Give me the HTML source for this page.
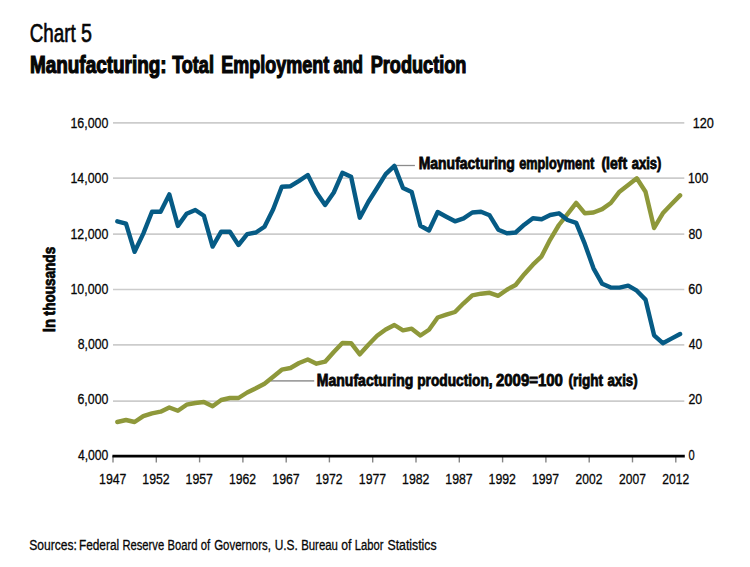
<!DOCTYPE html>
<html lang="en">
<head>
<meta charset="utf-8">
<title>Chart 5 - Manufacturing: Total Employment and Production</title>
<style>
  html, body { margin: 0; padding: 0; background: #ffffff; }
  body { width: 750px; height: 567px; overflow: hidden; }
  svg { display: block; }
  text { font-family: 'Liberation Sans', Arial, sans-serif; fill: #060606; stroke: #060606; stroke-width: 0.3; }
  .b { font-weight: bold; stroke-width: 0.8; }
  .t { stroke-width: 1.2; }
  .c { stroke-width: 0.65; }
  .grid line { stroke: #cccccc; stroke-width: 1.7; }
  .tick line { stroke: #858585; stroke-width: 1.4; }
  .ser { fill: none; stroke-width: 4.4; stroke-linejoin: round; stroke-linecap: round; }
</style>
</head>
<body>
<svg width="750" height="567" viewBox="0 0 750 567">
<rect width="750" height="567" fill="#ffffff"/>
<g class="grid">
<line x1="113" y1="122.9" x2="684.3" y2="122.9"/>
<line x1="113" y1="178.2" x2="684.3" y2="178.2"/>
<line x1="113" y1="234.2" x2="684.3" y2="234.2"/>
<line x1="113" y1="289.5" x2="684.3" y2="289.5"/>
<line x1="113" y1="344.8" x2="684.3" y2="344.8"/>
<line x1="113" y1="401.1" x2="684.3" y2="401.1"/>
</g>
<line x1="395" y1="165.5" x2="414.9" y2="165.5" stroke="#8c8c8c" stroke-width="1.3"/>
<line x1="271" y1="380.9" x2="314.2" y2="380.9" stroke="#a0a0a0" stroke-width="1.7"/>
<polyline class="ser" stroke="#8e983a" points="117.3,422.0 126.0,420.0 134.6,422.0 143.3,416.2 152.0,413.3 160.6,411.7 169.3,407.5 177.9,410.8 186.6,404.7 195.3,403.0 203.9,402.0 212.6,406.3 221.2,400.0 229.9,398.0 238.5,398.0 247.2,392.5 255.9,388.3 264.5,383.7 273.2,376.7 281.8,369.7 290.5,368.0 299.1,363.0 307.8,359.5 316.5,363.7 325.1,361.7 333.8,352.0 342.4,343.0 351.1,343.2 359.8,354.3 368.4,344.7 377.1,335.8 385.7,329.5 394.4,325.0 403.0,330.3 411.7,328.7 420.4,335.5 429.0,329.7 437.7,317.5 446.3,314.7 455.0,312.0 463.6,303.3 472.3,295.3 481.0,293.7 489.6,292.8 498.3,295.8 506.9,289.7 515.6,285.0 524.3,274.2 532.9,264.7 541.6,256.3 550.2,239.6 558.9,225.0 567.5,214.2 576.2,202.9 584.9,213.3 593.5,212.5 602.2,209.1 610.8,203.0 619.5,191.7 628.2,185.0 636.8,178.3 645.5,191.7 654.1,228.0 662.8,213.3 671.4,204.3 680.1,195.4"/>
<polyline class="ser" stroke="#065b85" points="117.3,221.3 126.0,223.7 134.6,251.8 143.3,233.6 152.0,211.7 160.6,211.7 169.3,194.4 177.9,225.9 186.6,213.7 195.3,210.0 203.9,215.8 212.6,246.6 221.2,231.7 229.9,231.7 238.5,245.0 247.2,234.2 255.9,232.5 264.5,226.7 273.2,209.2 281.8,186.7 290.5,186.2 299.1,180.8 307.8,175.0 316.5,192.5 325.1,204.9 333.8,192.5 342.4,172.8 351.1,176.7 359.8,217.7 368.4,201.7 377.1,188.0 385.7,174.2 394.4,165.9 403.0,188.0 411.7,192.0 420.4,225.8 429.0,230.5 437.7,212.0 446.3,216.7 455.0,221.3 463.6,218.3 472.3,212.5 481.0,211.7 489.6,215.3 498.3,229.7 506.9,233.3 515.6,232.5 524.3,224.7 532.9,218.3 541.6,219.2 550.2,215.0 558.9,213.3 567.5,220.0 576.2,222.8 584.9,244.2 593.5,268.3 602.2,283.8 610.8,287.6 619.5,287.6 628.2,285.7 636.8,290.7 645.5,299.6 654.1,335.3 662.8,343.2 671.4,338.6 680.1,334.0"/>
<g class="tick">
<line x1="113.0" y1="456.1" x2="113.0" y2="462.4"/>
<line x1="156.3" y1="456.1" x2="156.3" y2="462.4"/>
<line x1="199.6" y1="456.1" x2="199.6" y2="462.4"/>
<line x1="242.9" y1="456.1" x2="242.9" y2="462.4"/>
<line x1="286.2" y1="456.1" x2="286.2" y2="462.4"/>
<line x1="329.4" y1="456.1" x2="329.4" y2="462.4"/>
<line x1="372.7" y1="456.1" x2="372.7" y2="462.4"/>
<line x1="416.0" y1="456.1" x2="416.0" y2="462.4"/>
<line x1="459.3" y1="456.1" x2="459.3" y2="462.4"/>
<line x1="502.6" y1="456.1" x2="502.6" y2="462.4"/>
<line x1="545.9" y1="456.1" x2="545.9" y2="462.4"/>
<line x1="589.2" y1="456.1" x2="589.2" y2="462.4"/>
<line x1="632.5" y1="456.1" x2="632.5" y2="462.4"/>
<line x1="675.8" y1="456.1" x2="675.8" y2="462.4"/>
</g>
<line x1="112.4" y1="456.1" x2="684.8" y2="456.1" stroke="#000" stroke-width="2.6"/>
<text y="41.8" font-size="25.5" class="c"><tspan x="29.7" textLength="45.95" lengthAdjust="spacingAndGlyphs">Chart</tspan> <tspan x="80.95" textLength="10.95" lengthAdjust="spacingAndGlyphs">5</tspan></text>
<text y="72.6" font-size="23.5" class="b t"><tspan x="29.95" textLength="136.7" lengthAdjust="spacingAndGlyphs">Manufacturing:</tspan> <tspan x="172.2" textLength="41.7" lengthAdjust="spacingAndGlyphs">Total</tspan> <tspan x="221.2" textLength="107.95" lengthAdjust="spacingAndGlyphs">Employment</tspan> <tspan x="333.45" textLength="29.45" lengthAdjust="spacingAndGlyphs">and</tspan> <tspan x="370.7" textLength="95.7" lengthAdjust="spacingAndGlyphs">Production</tspan></text>
<text y="128.0" font-size="15.4"><tspan x="70.45" textLength="37.95" lengthAdjust="spacingAndGlyphs">16,000</tspan></text>
<text y="183.3" font-size="15.4"><tspan x="70.45" textLength="37.95" lengthAdjust="spacingAndGlyphs">14,000</tspan></text>
<text y="238.5" font-size="15.4"><tspan x="70.45" textLength="37.95" lengthAdjust="spacingAndGlyphs">12,000</tspan></text>
<text y="293.8" font-size="15.4"><tspan x="70.45" textLength="37.95" lengthAdjust="spacingAndGlyphs">10,000</tspan></text>
<text y="349.1" font-size="15.4"><tspan x="77.7" textLength="30.7" lengthAdjust="spacingAndGlyphs">8,000</tspan></text>
<text y="404.4" font-size="15.4"><tspan x="77.45" textLength="30.95" lengthAdjust="spacingAndGlyphs">6,000</tspan></text>
<text y="459.6" font-size="15.4"><tspan x="77.95" textLength="30.45" lengthAdjust="spacingAndGlyphs">4,000</tspan></text>
<text y="128.0" font-size="15.4"><tspan x="692.7" textLength="21.2" lengthAdjust="spacingAndGlyphs">120</tspan></text>
<text y="183.3" font-size="15.4"><tspan x="687.95" textLength="20.45" lengthAdjust="spacingAndGlyphs">100</tspan></text>
<text y="238.5" font-size="15.4"><tspan x="688.45" textLength="13.7" lengthAdjust="spacingAndGlyphs">80</tspan></text>
<text y="293.8" font-size="15.4"><tspan x="688.2" textLength="13.95" lengthAdjust="spacingAndGlyphs">60</tspan></text>
<text y="349.1" font-size="15.4"><tspan x="688.7" textLength="13.45" lengthAdjust="spacingAndGlyphs">40</tspan></text>
<text y="404.4" font-size="15.4"><tspan x="688.45" textLength="13.7" lengthAdjust="spacingAndGlyphs">20</tspan></text>
<text y="459.6" font-size="15.4"><tspan x="688.45" textLength="6.2" lengthAdjust="spacingAndGlyphs">0</tspan></text>
<text y="483.9" font-size="15.4"><tspan x="99.05" textLength="27.35" lengthAdjust="spacingAndGlyphs">1947</tspan> <tspan x="142.3" textLength="27.35" lengthAdjust="spacingAndGlyphs">1952</tspan> <tspan x="185.55" textLength="27.35" lengthAdjust="spacingAndGlyphs">1957</tspan> <tspan x="229.05" textLength="27.1" lengthAdjust="spacingAndGlyphs">1962</tspan> <tspan x="272.3" textLength="27.35" lengthAdjust="spacingAndGlyphs">1967</tspan> <tspan x="315.55" textLength="27.1" lengthAdjust="spacingAndGlyphs">1972</tspan> <tspan x="358.8" textLength="27.35" lengthAdjust="spacingAndGlyphs">1977</tspan> <tspan x="402.05" textLength="27.35" lengthAdjust="spacingAndGlyphs">1982</tspan> <tspan x="445.3" textLength="27.35" lengthAdjust="spacingAndGlyphs">1987</tspan> <tspan x="488.55" textLength="27.35" lengthAdjust="spacingAndGlyphs">1992</tspan> <tspan x="532.05" textLength="27.1" lengthAdjust="spacingAndGlyphs">1997</tspan> <tspan x="575.55" textLength="26.85" lengthAdjust="spacingAndGlyphs">2002</tspan> <tspan x="619.05" textLength="26.85" lengthAdjust="spacingAndGlyphs">2007</tspan> <tspan x="662.3" textLength="26.85" lengthAdjust="spacingAndGlyphs">2012</tspan></text>
<text y="169.4" font-size="15.7" class="b"><tspan x="418.7" textLength="96.2" lengthAdjust="spacingAndGlyphs">Manufacturing</tspan> <tspan x="519.2" textLength="74.95" lengthAdjust="spacingAndGlyphs">employment</tspan> <tspan x="601.45" textLength="25.7" lengthAdjust="spacingAndGlyphs">(left</tspan> <tspan x="631.7" textLength="29.7" lengthAdjust="spacingAndGlyphs">axis)</tspan></text>
<text y="385.5" font-size="15.7" class="b"><tspan x="316.85" textLength="96.55" lengthAdjust="spacingAndGlyphs">Manufacturing</tspan> <tspan x="417.2" textLength="75.45" lengthAdjust="spacingAndGlyphs">production,</tspan> <tspan x="495.95" textLength="66.95" lengthAdjust="spacingAndGlyphs">2009=100</tspan> <tspan x="568.45" textLength="34.7" lengthAdjust="spacingAndGlyphs">(right</tspan> <tspan x="607.45" textLength="30.2" lengthAdjust="spacingAndGlyphs">axis)</tspan></text>
<text y="549.8" font-size="15.5"><tspan x="29.2" textLength="47.7" lengthAdjust="spacingAndGlyphs">Sources:</tspan> <tspan x="78.95" textLength="40.2" lengthAdjust="spacingAndGlyphs">Federal</tspan> <tspan x="122.45" textLength="41.7" lengthAdjust="spacingAndGlyphs">Reserve</tspan> <tspan x="167.45" textLength="29.95" lengthAdjust="spacingAndGlyphs">Board</tspan> <tspan x="200.7" textLength="9.45" lengthAdjust="spacingAndGlyphs">of</tspan> <tspan x="214.2" textLength="56.7" lengthAdjust="spacingAndGlyphs">Governors,</tspan> <tspan x="274.7" textLength="23.2" lengthAdjust="spacingAndGlyphs">U.S.</tspan> <tspan x="301.2" textLength="36.7" lengthAdjust="spacingAndGlyphs">Bureau</tspan> <tspan x="341.2" textLength="10.2" lengthAdjust="spacingAndGlyphs">of</tspan> <tspan x="354.7" textLength="28.7" lengthAdjust="spacingAndGlyphs">Labor</tspan> <tspan x="387.45" textLength="49.2" lengthAdjust="spacingAndGlyphs">Statistics</tspan></text>
<text transform="translate(55.0 0) rotate(-90)" y="0" class="b" font-size="17"><tspan x="-332.2" textLength="13.3" lengthAdjust="spacingAndGlyphs">In</tspan> <tspan x="-315.4" textLength="68.6" lengthAdjust="spacingAndGlyphs">thousands</tspan></text>
</svg>
</body>
</html>
